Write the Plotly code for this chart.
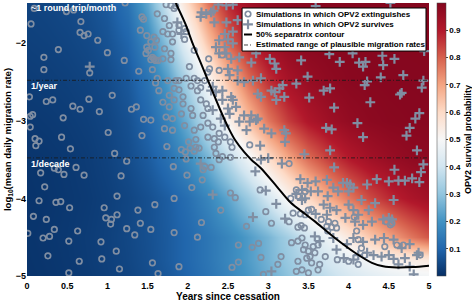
import plotly.graph_objects as go

# ---------------- data ----------------
grid_years = [0, 0.25, 0.5, 0.75, 1, 1.25, 1.5, 1.75, 2, 2.25, 2.5, 2.75, 3, 3.25, 3.5, 3.75, 4, 4.25, 4.5, 4.75, 5]
grid_lograte = [-5.0, -4.8, -4.5, -4.0, -3.5, -3.0, -2.5, -2.0, -1.48]
survival_prob = [
    [0.01, 0.013, 0.017, 0.022, 0.03, 0.04, 0.055, 0.075, 0.10, 0.13, 0.165, 0.205, 0.25, 0.295, 0.34, 0.38, 0.415, 0.44, 0.46, 0.475, 0.485],
    [0.011, 0.014, 0.018, 0.024, 0.032, 0.043, 0.058, 0.08, 0.105, 0.135, 0.172, 0.215, 0.262, 0.312, 0.362, 0.41, 0.455, 0.49, 0.52, 0.54, 0.553],
    [0.012, 0.015, 0.019, 0.025, 0.033, 0.045, 0.06, 0.08, 0.105, 0.135, 0.17, 0.215, 0.265, 0.33, 0.40, 0.478, 0.556, 0.632, 0.70, 0.762, 0.814],
    [0.01, 0.013, 0.017, 0.022, 0.03, 0.042, 0.06, 0.085, 0.12, 0.17, 0.235, 0.315, 0.41, 0.508, 0.602, 0.69, 0.765, 0.828, 0.876, 0.912, 0.938],
    [0.012, 0.015, 0.019, 0.025, 0.035, 0.053, 0.08, 0.122, 0.18, 0.258, 0.357, 0.468, 0.581, 0.686, 0.775, 0.844, 0.895, 0.931, 0.955, 0.971, 0.981],
    [0.018, 0.021, 0.025, 0.031, 0.041, 0.062, 0.102, 0.166, 0.26, 0.38, 0.517, 0.65, 0.765, 0.85, 0.908, 0.945, 0.968, 0.981, 0.989, 0.992, 0.994],
    [0.025, 0.028, 0.032, 0.038, 0.05, 0.076, 0.128, 0.217, 0.343, 0.494, 0.646, 0.773, 0.864, 0.922, 0.957, 0.976, 0.987, 0.992, 0.994, 0.995, 0.996],
    [0.032, 0.035, 0.04, 0.048, 0.064, 0.098, 0.174, 0.30, 0.47, 0.645, 0.79, 0.885, 0.94, 0.97, 0.985, 0.991, 0.994, 0.995, 0.996, 0.997, 0.997],
    [0.038, 0.042, 0.048, 0.058, 0.078, 0.128, 0.24, 0.41, 0.60, 0.77, 0.88, 0.94, 0.97, 0.985, 0.991, 0.994, 0.995, 0.996, 0.997, 0.997, 0.998],
]

extinct_years = [
    1.22, 0.09, 0.49, 0.58, 0.05, 0.67, 0.66, 0.71, 0.76, 0.88, 0.39, 1.00, 0.21, 1.21, 0.21, 0.78, 1.39, 1.56,
    1.43, 1.45, 1.62, 1.41, 1.49, 1.58, 1.61, 1.54, 1.51, 1.48, 1.56, 1.58, 1.54, 1.60, 1.63, 1.49, 1.59, 1.62, 1.60, 1.64,
    0.03, 0.24, 0.32, 0.77, 1.06, 0.57, 0.66, 0.90, 1.30, 1.36, 0.04, 0.07, 0.45, 1.45, 1.54, 0.04, 0.10, 0.43, 1.01, 1.43,
    0.15, 0.11, 0.54, 1.09, 1.24, 0.39, 0.46, 0.61, 0.34, 0.17, 0.71, 1.17, 0.22, 0.15, 0.36, 0.42, 0.53, 1.12, 0.96, 1.59,
    1.38, 0.08, 0.24, 0.98, 1.05, 1.12, 1.04, 1.41, 1.24, 1.54, 0.34, 0.63, 0.01, 0.20, 0.28, 1.34, 0.52, 0.92, 1.11, 0.26,
    0.65, 0.93, 1.56, 1.15, 0.52, 1.63,
    1.73, 1.79, 1.85, 1.83, 1.71, 1.77, 1.89, 1.96, 1.69, 1.75, 1.81, 1.89, 1.98, 1.81, 1.96, 1.71, 1.79, 2.08, 1.69, 1.79,
    2.02, 2.26, 2.27, 2.25, 2.39, 2.43, 1.75, 1.85, 1.89, 1.98, 2.08, 2.12, 2.21, 1.83, 1.77, 1.89, 2.04, 2.12, 1.94, 2.16,
    1.69, 1.77, 1.83, 1.94, 2.04, 2.16, 2.23, 2.25, 1.73, 1.81, 1.92, 2.06, 2.19, 2.25, 1.71, 1.81, 1.96, 2.08, 2.16, 2.31,
    2.39, 2.25, 2.33, 2.46,
    1.74, 1.92, 1.97, 2.03, 2.08, 2.10, 2.14, 2.01, 2.10, 2.38, 2.33, 2.35, 2.43, 2.39, 2.53, 2.55, 2.53, 1.98, 2.19, 2.21,
    2.29, 1.82, 1.99, 2.18, 2.05, 1.83, 2.53, 2.59, 2.41, 2.17, 1.83, 2.12, 2.73, 2.63, 2.80, 2.88, 2.91, 3.16, 3.12, 1.89,
    2.55, 2.63, 2.94, 2.77, 3.26, 2.90, 3.28, 3.31, 2.97, 3.04, 3.26, 3.29,
    3.46, 3.37, 3.35, 3.50, 3.54, 3.46, 3.40, 3.75, 3.73, 3.79, 3.85, 3.66, 3.83, 3.74, 3.37, 3.41, 3.45, 4.07, 4.10, 4.12,
    4.47, 4.52, 4.54, 4.16, 4.45, 3.42, 3.37, 3.46, 3.56, 3.62, 3.44, 3.50, 3.58, 3.52, 3.37, 3.48, 3.54, 3.64, 3.71, 3.86,
    4.00, 4.12, 3.42, 3.62, 3.35, 3.50, 4.20, 4.60, 4.68, 4.89,
]
extinct_lograte = [
    -1.48, -1.55, -1.59, -1.57, -1.75, -1.72, -1.86, -1.90, -1.88, -1.96, -2.08, -2.12, -2.18, -2.22, -2.34, -2.38, -2.36, -2.34,
    -1.66, -1.69, -1.62, -1.83, -1.90, -1.92, -1.96, -1.98, -2.09, -2.13, -2.18, -2.20, -2.21, -2.22, -2.22, -2.05, -2.05, -2.45, -2.51, -2.61,
    -2.69, -2.75, -2.73, -2.72, -2.67, -2.81, -2.85, -2.88, -2.85, -2.82, -2.94, -2.92, -2.96, -2.98, -2.99, -3.08, -3.23, -3.21, -3.15, -3.19,
    -3.26, -3.32, -3.36, -3.42, -3.52, -3.63, -3.69, -3.60, -3.61, -3.67, -3.70, -3.71, -3.85, -4.03, -4.05, -4.04, -4.12, -3.97, -4.12, -4.08,
    -4.15, -4.23, -4.27, -4.25, -4.27, -4.21, -4.33, -4.32, -4.39, -4.40, -4.40, -4.42, -4.45, -4.51, -4.49, -4.47, -4.55, -4.56, -4.68, -4.74,
    -4.81, -4.78, -4.83, -4.91, -4.96, -4.97,
    -1.50, -1.51, -1.52, -1.55, -1.68, -1.77, -1.77, -1.81, -1.85, -1.88, -1.88, -1.83, -1.85, -1.98, -1.95, -2.07, -2.13, -2.09, -2.20, -2.21,
    -2.30, -2.20, -2.33, -2.37, -2.35, -2.15, -2.48, -2.48, -2.48, -2.45, -2.45, -2.48, -2.48, -2.58, -2.67, -2.60, -2.55, -2.61, -2.69, -2.57,
    -2.76, -2.82, -2.73, -2.78, -2.84, -2.73, -2.78, -2.84, -2.95, -2.97, -2.91, -2.93, -2.93, -3.03, -3.10, -3.12, -3.06, -3.12, -3.08, -3.08,
    -3.16, -3.21, -3.23, -3.21,
    -3.33, -3.37, -3.40, -3.35, -3.39, -3.34, -3.35, -3.27, -3.24, -3.27, -3.34, -3.42, -3.46, -3.50, -3.27, -3.34, -3.47, -3.49, -3.63, -3.59,
    -3.60, -3.59, -3.70, -3.76, -3.86, -4.00, -3.93, -3.99, -4.15, -4.31, -4.44, -4.50, -4.36, -4.60, -4.63, -4.58, -4.76, -4.75, -4.85, -4.88,
    -4.89, -4.82, -4.98, -3.31, -3.55, -3.89, -4.00, -4.19, -4.17, -4.32, -4.30, -4.57,
    -3.91, -3.97, -3.89, -4.15, -4.14, -4.21, -4.20, -4.30, -4.36, -4.37, -4.38, -4.27, -4.32, -4.42, -4.37, -4.35, -4.38, -4.24, -4.42, -4.53,
    -4.30, -4.34, -4.32, -4.64, -4.62, -4.51, -4.55, -4.60, -4.62, -4.60, -4.66, -4.68, -4.70, -4.75, -4.81, -4.77, -4.83, -4.85, -4.75, -4.79,
    -4.81, -4.85, -4.92, -4.92, -4.94, -4.96, -4.73, -4.60, -4.60, -4.73,
]

survive_years = [
    0.78, 1.92, 1.87,
    2.38, 2.48, 2.56, 2.17, 2.23, 2.29, 2.32, 2.16, 2.33, 2.48, 2.62, 2.46, 2.56, 2.39, 2.50, 2.35, 2.46, 2.56,
    2.39, 2.48, 2.64, 2.54, 2.79, 2.85, 3.02, 3.08, 3.10, 2.50, 2.62, 2.52, 2.31, 2.29, 2.35, 2.43, 2.54, 2.56, 2.43,
    2.60, 2.50, 2.62, 2.70, 2.81, 2.91, 3.08, 3.04, 3.14, 3.18, 3.20, 3.10, 2.91, 2.87, 2.70, 2.79, 2.85, 2.77, 2.87,
    2.95, 3.04, 3.20, 3.22, 2.31, 2.41, 2.46, 2.52, 2.64, 2.73,
    3.59, 4.52, 3.41, 3.76, 3.89, 4.05, 4.13, 4.18, 4.21, 4.42, 4.57, 4.43, 4.94, 3.49, 3.35, 4.23, 4.20, 4.40, 4.68,
    4.93, 4.91, 3.69, 3.77, 4.66, 4.64, 3.51, 4.27, 3.82, 4.88, 4.83, 4.11, 3.72, 3.79, 4.76, 4.18, 4.72,
    2.16, 2.31, 2.81, 3.04, 2.90, 2.91, 3.00, 3.17, 3.21, 2.84, 2.97, 3.10, 3.21,
    3.45, 3.77, 4.85, 3.82, 4.57, 4.93, 4.90, 3.40, 3.49, 3.59, 3.73, 3.81, 3.93, 3.98, 4.02, 4.06, 4.23, 4.35, 4.50,
    4.62, 4.70, 4.79, 4.88, 3.42, 3.53, 3.62, 3.74, 3.87, 4.00, 4.16, 4.33, 4.56, 3.35, 3.42, 3.46, 3.69, 3.77, 3.85,
    4.00, 4.06, 4.12, 4.25, 3.59, 3.73, 3.96, 4.08, 4.18, 4.29, 4.43, 4.50, 4.54, 3.58, 3.64, 3.81, 3.98, 4.06, 4.18,
    4.33, 4.44, 4.56, 4.66, 4.76, 4.87, 3.85, 3.94, 4.06, 4.12, 4.23, 4.31, 4.41, 4.50, 4.56, 4.70, 4.85, 4.76, 4.81, 4.62,
]
survive_lograte = [
    -2.30, -1.88, -1.73,
    -1.50, -1.51, -1.50, -1.60, -1.62, -1.60, -1.58, -1.66, -1.73, -1.73, -1.70, -1.88, -1.85, -1.96, -1.95, -2.05, -2.05, -2.00,
    -2.13, -2.13, -2.18, -2.20, -2.25, -2.13, -2.20, -2.26, -2.33, -2.33, -2.35, -2.41, -2.56, -2.61, -2.63, -2.61, -2.69, -2.73, -2.73,
    -2.82, -2.84, -2.48, -2.50, -2.48, -2.45, -2.63, -2.61, -2.58, -2.54, -2.69, -2.73, -2.69, -2.65, -2.93, -2.93, -2.99, -3.01, -2.97,
    -3.10, -3.16, -3.12, -3.16, -2.86, -2.97, -3.06, -2.91, -3.01, -3.12,
    -1.52, -1.48, -2.22, -2.14, -2.24, -2.13, -2.25, -2.30, -2.24, -2.16, -2.20, -2.28, -2.10, -2.43, -2.52, -2.49, -2.54, -2.44, -2.41,
    -2.48, -2.57, -2.61, -2.58, -2.64, -2.66, -2.70, -2.76, -2.83, -2.90, -2.97, -3.03, -3.09, -3.11, -3.09, -3.21, -3.19,
    -3.55, -3.95, -4.24, -4.94, -3.32, -3.50, -3.48, -3.55, -3.27, -3.65, -3.90, -4.07, -4.26,
    -3.43, -3.38, -3.38, -3.60, -3.63, -3.56, -3.66, -3.75, -3.80, -3.78, -3.76, -3.86, -3.80, -3.80, -3.82, -3.86, -3.82, -3.75, -3.78,
    -3.77, -3.77, -3.74, -3.79, -3.89, -3.91, -3.91, -3.97, -3.91, -3.91, -4.02, -4.06, -4.02, -3.94, -4.02, -4.00, -4.08, -4.12, -4.15,
    -4.08, -4.15, -4.21, -4.15, -4.20, -4.21, -4.25, -4.30, -4.34, -4.30, -4.27, -4.25, -4.27, -4.49, -4.55, -4.51, -4.59, -4.51, -4.56,
    -4.53, -4.51, -4.53, -4.64, -4.59, -4.70, -4.66, -4.77, -4.79, -4.73, -4.70, -4.73, -4.75, -4.73, -4.78, -4.77, -4.73, -4.88, -4.98, -4.85,
]

separatrix_years = [1.85, 1.97, 2.06, 2.16, 2.25, 2.40, 2.51, 2.59, 2.70, 2.79, 2.91, 3.11, 3.285, 3.46, 3.58, 3.83, 4.08, 4.29, 4.43, 4.60, 4.80, 5.0]
separatrix_lograte = [-1.48, -1.75, -2.0, -2.25, -2.476, -2.85, -3.10, -3.25, -3.40, -3.50, -3.61, -3.85, -4.06, -4.20, -4.296, -4.51, -4.70, -4.83, -4.875, -4.89, -4.885, -4.867]

plausible_rate_bounds = [-2.477, -3.477]
rate_labels = ["~1 round trip/month", "1/year", "1/decade"]
rate_label_pos = [-1.55, -2.555, -3.558]

colorbar_ticks = [0.1, 0.2, 0.3, 0.4, 0.5, 0.6, 0.7, 0.8, 0.9]
x_ticks = [0, 0.5, 1, 1.5, 2, 2.5, 3, 3.5, 4, 4.5, 5]
y_ticks = [-2, -3, -4, -5]

legend_labels = [
    "Simulations in which OPV2 extinguishes",
    "Simulations in which OPV2 survives",
    "50% separatrix contour",
    "Estimated range of plausible migration rates",
]

# ---------------- styles ----------------
FONT = "Liberation Sans"
MARK = "rgb(128,142,162)"
DASH = "4px,2px,1px,2px"
colorscale = [
    [0.0, "rgb(6,46,100)"],
    [0.1, "rgb(33,102,172)"],
    [0.2, "rgb(67,147,195)"],
    [0.3, "rgb(146,197,222)"],
    [0.4, "rgb(209,229,240)"],
    [0.5, "rgb(247,247,247)"],
    [0.6, "rgb(253,219,199)"],
    [0.7, "rgb(244,165,130)"],
    [0.8, "rgb(214,96,77)"],
    [0.9, "rgb(178,24,43)"],
    [1.0, "rgb(132,6,30)"],
]

fig = go.Figure()

fig.add_trace(go.Heatmap(
    x=grid_years, y=grid_lograte, z=survival_prob,
    zmin=0, zmax=1, zsmooth="best", colorscale=colorscale,
    colorbar=dict(
        x=1.02, xanchor="left", xpad=0, y=0.5, yanchor="middle", len=1, ypad=0,
        thickness=9, tickvals=colorbar_ticks, ticks="outside", ticklen=2,
        tickfont=dict(family=FONT, size=8, weight="bold", color="black"),
        outlinewidth=0.5, outlinecolor="#444",
        title=dict(text="OPV2 survival probability", side="right",
                   font=dict(family=FONT, size=9, weight="bold", color="black")),
    ),
    showlegend=False, hoverinfo="skip",
))

fig.add_trace(go.Scatter(
    x=extinct_years, y=extinct_lograte, mode="markers", showlegend=False,
    marker=dict(symbol="circle-open", size=5.5, color=MARK, line=dict(width=1.7, color=MARK)),
))
fig.add_trace(go.Scatter(
    x=survive_years, y=survive_lograte, mode="markers", showlegend=False,
    marker=dict(symbol="cross-thin-open", size=7, color=MARK, line=dict(width=2.2, color=MARK)),
))

bx, by = [], []
for b in plausible_rate_bounds:
    bx += [x_ticks[0], x_ticks[-1], None]
    by += [b, b, None]
fig.add_trace(go.Scatter(x=bx, y=by, mode="lines", showlegend=False,
                         line=dict(color="rgba(25,25,25,0.8)", width=1, dash=DASH)))

fig.add_trace(go.Scatter(x=separatrix_years, y=separatrix_lograte, mode="lines", showlegend=False,
                         line=dict(color="black", width=2, shape="spline", smoothing=0.8)))

# ---- compact legend drawn on an overlay axis (plot-fraction coordinates) ----
lx0, lx1, ly0, ly1 = 0.535, 0.9925, 0.824, 0.9817
rows = [0.9597, 0.9220, 0.8846, 0.8462]
sym_x, seg = 0.5498, 0.0100
fig.add_trace(go.Scatter(x=[lx0, lx1, lx1, lx0, lx0], y=[ly0, ly0, ly1, ly1, ly0], xaxis="x2", yaxis="y2",
                         mode="lines", fill="toself", fillcolor="white", line=dict(color="black", width=1),
                         showlegend=False, hoverinfo="skip"))
fig.add_trace(go.Scatter(x=[sym_x], y=[rows[0]], xaxis="x2", yaxis="y2", mode="markers", showlegend=False,
                         marker=dict(symbol="circle-open", size=5.5, color=MARK, line=dict(width=1.7, color=MARK))))
fig.add_trace(go.Scatter(x=[sym_x], y=[rows[1]], xaxis="x2", yaxis="y2", mode="markers", showlegend=False,
                         marker=dict(symbol="cross-thin-open", size=7, color=MARK, line=dict(width=2.2, color=MARK))))
fig.add_trace(go.Scatter(x=[sym_x - seg, sym_x + seg], y=[rows[2], rows[2]], xaxis="x2", yaxis="y2", mode="lines",
                         showlegend=False, line=dict(color="black", width=2)))
fig.add_trace(go.Scatter(x=[sym_x - seg, sym_x + seg], y=[rows[3], rows[3]], xaxis="x2", yaxis="y2", mode="lines",
                         showlegend=False, line=dict(color="rgba(25,25,25,0.8)", width=1, dash=DASH)))

annotations = []
for lab, yy in zip(legend_labels, rows):
    annotations.append(dict(x=0.5647, y=yy, xref="paper", yref="paper", xanchor="left", yanchor="middle",
                            text=lab, showarrow=False,
                            font=dict(family=FONT, size=8, weight="bold", color="black")))
for lab, yy in zip(rate_labels, rate_label_pos):
    annotations.append(dict(x=0.02, y=yy, xref="x", yref="y", xanchor="left", yanchor="middle",
                            text=lab, showarrow=False,
                            font=dict(family=FONT, size=9, weight="bold", color="white")))

fig.update_layout(
    width=472, height=302,
    margin=dict(l=27, r=43, t=3, b=26, autoexpand=False),
    paper_bgcolor="white", plot_bgcolor="white",
    font=dict(family=FONT, size=9, color="black", weight="bold"),
    showlegend=False,
    annotations=annotations,
    xaxis=dict(range=[0, 5], tickvals=x_ticks, showgrid=False, zeroline=False, ticks="", automargin=False,
               ticklabelstandoff=3, tickfont=dict(size=9, weight="bold"),
               title=dict(text="Years since cessation", standoff=3, font=dict(size=10, weight="bold"))),
    yaxis=dict(range=[-5, -1.48], tickvals=y_ticks, showgrid=False, zeroline=False, ticks="", automargin=False,
               tickfont=dict(size=9, weight="bold"),
               title=dict(text="log<sub>10</sub>(mean daily migration rate)", standoff=2,
                          font=dict(size=9.5, weight="bold"))),
    xaxis2=dict(overlaying="x", range=[0, 1], visible=False, fixedrange=True),
    yaxis2=dict(overlaying="y", range=[0, 1], visible=False, fixedrange=True),
)

fig.write_html("out.html", config={"displayModeBar": False},
               post_script="document.body.style.margin='0';document.body.style.padding='0';")
